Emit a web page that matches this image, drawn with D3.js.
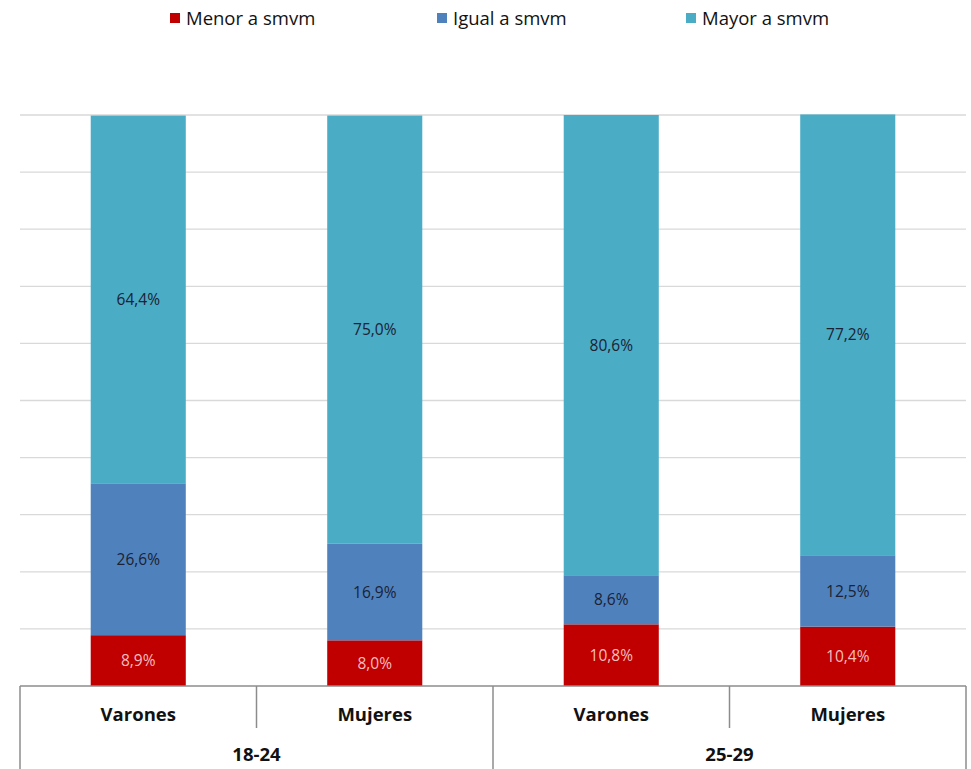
<!DOCTYPE html>
<html>
<head>
<meta charset="utf-8">
<script src="https://cdn.jsdelivr.net/npm/d3@7"></script>
<style>
  html, body { margin: 0; padding: 0; background: #fff; }
  svg { display: block; font-family: "Open Sans", sans-serif; }
</style>
</head>
<body>
<svg id="chart" width="971" height="769"></svg>
<script>
// ---- data ----
const categories = ["Varones", "Mujeres", "Varones", "Mujeres"];
const groups = ["18-24", "25-29"];
const seriesNames = ["Menor a smvm", "Igual a smvm", "Mayor a smvm"];
const menor = [8.9, 8.0, 10.8, 10.4];
const igual = [26.6, 16.9, 8.6, 12.5];
const mayor = [64.4, 75.0, 80.6, 77.2];
const valueLabels = [
  ["8,9%", "8,0%", "10,8%", "10,4%"],
  ["26,6%", "16,9%", "8,6%", "12,5%"],
  ["64,4%", "75,0%", "80,6%", "77,2%"]
];
const gridTicks = [0, 10, 20, 30, 40, 50, 60, 70, 80, 90, 100];

const colors = ["#C00000", "#4F81BD", "#4BACC6"];
const labelColors = ["#F4BEBE", "#1B2233", "#1B2233"];

const svg = d3.select("#chart");
const pLeft = 20, pRight = 966, pTop = 115, pBottom = 686;

const keys = categories.map((c, i) => i);
const x = d3.scaleBand().domain(keys).range([pLeft, pRight]).paddingInner(0.598).paddingOuter(0.299);
const y = d3.scaleLinear().domain([0, 100]).range([pBottom, pTop]);

// gridlines
svg.append("g").selectAll("line").data(gridTicks.slice(1)).join("line")
  .attr("x1", pLeft).attr("x2", pRight)
  .attr("y1", d => y(d)).attr("y2", d => y(d))
  .attr("stroke", "#D9D9D9").attr("stroke-width", 1.3);

// stack
const rows = keys.map(i => ({ i, s0: menor[i], s1: igual[i], s2: mayor[i] }));
const stack = d3.stack().keys(["s0", "s1", "s2"]);
const stacked = stack(rows);

const seriesG = svg.append("g").selectAll("g").data(stacked).join("g")
  .attr("fill", (d, k) => colors[k]);
seriesG.selectAll("rect").data(d => d).join("rect")
  .attr("x", d => x(d.data.i))
  .attr("width", x.bandwidth())
  .attr("y", d => y(d[1]))
  .attr("height", d => y(d[0]) - y(d[1]));

// value labels
stacked.forEach((s, k) => {
  svg.append("g").selectAll("text").data(s).join("text")
    .attr("x", d => x(d.data.i) + x.bandwidth() / 2)
    .attr("y", d => (y(d[0]) + y(d[1])) / 2)
    .attr("dy", "0.36em")
    .attr("text-anchor", "middle")
    .attr("font-size", 15.5)
    .attr("fill", labelColors[k])
    .text((d, j) => valueLabels[k][j]);
});

// category axis (table style)
const axisG = svg.append("g").attr("stroke", "#8C8C8C").attr("stroke-width", 1.5);
axisG.append("line").attr("x1", pLeft).attr("x2", pRight).attr("y1", pBottom).attr("y2", pBottom);
const step = x.step();
const boundaries = d3.range(0, 5).map(i => pLeft + i * step);
boundaries.forEach((bx, i) => {
  const major = i % 2 === 0;
  axisG.append("line")
    .attr("x1", bx).attr("x2", bx)
    .attr("y1", pBottom).attr("y2", major ? 769 : 728);
});

svg.append("g").selectAll("text").data(keys).join("text")
  .attr("x", d => x(d) + x.bandwidth() / 2)
  .attr("y", 714).attr("dy", "0.36em")
  .attr("text-anchor", "middle")
  .attr("font-size", 18.5).attr("font-weight", "bold").attr("fill", "#111")
  .text(d => categories[d]);

svg.append("g").selectAll("text").data(groups).join("text")
  .attr("x", (d, g) => pLeft + step * (2 * g + 1))
  .attr("y", 754).attr("dy", "0.36em")
  .attr("text-anchor", "middle")
  .attr("font-size", 18.5).attr("font-weight", "bold").attr("fill", "#111")
  .text(d => d);

// legend
const legendX = [170, 437, 686];
const lg = svg.append("g").selectAll("g").data(seriesNames).join("g")
  .attr("transform", (d, k) => `translate(${legendX[k]},18)`);
lg.append("rect").attr("x", 0).attr("y", -5).attr("width", 10).attr("height", 10)
  .attr("fill", (d, k) => colors[k]);
lg.append("text").attr("x", 16).attr("dy", "0.36em")
  .attr("font-size", 18.5).attr("fill", "#111")
  .text(d => d);
</script>
</body>
</html>
